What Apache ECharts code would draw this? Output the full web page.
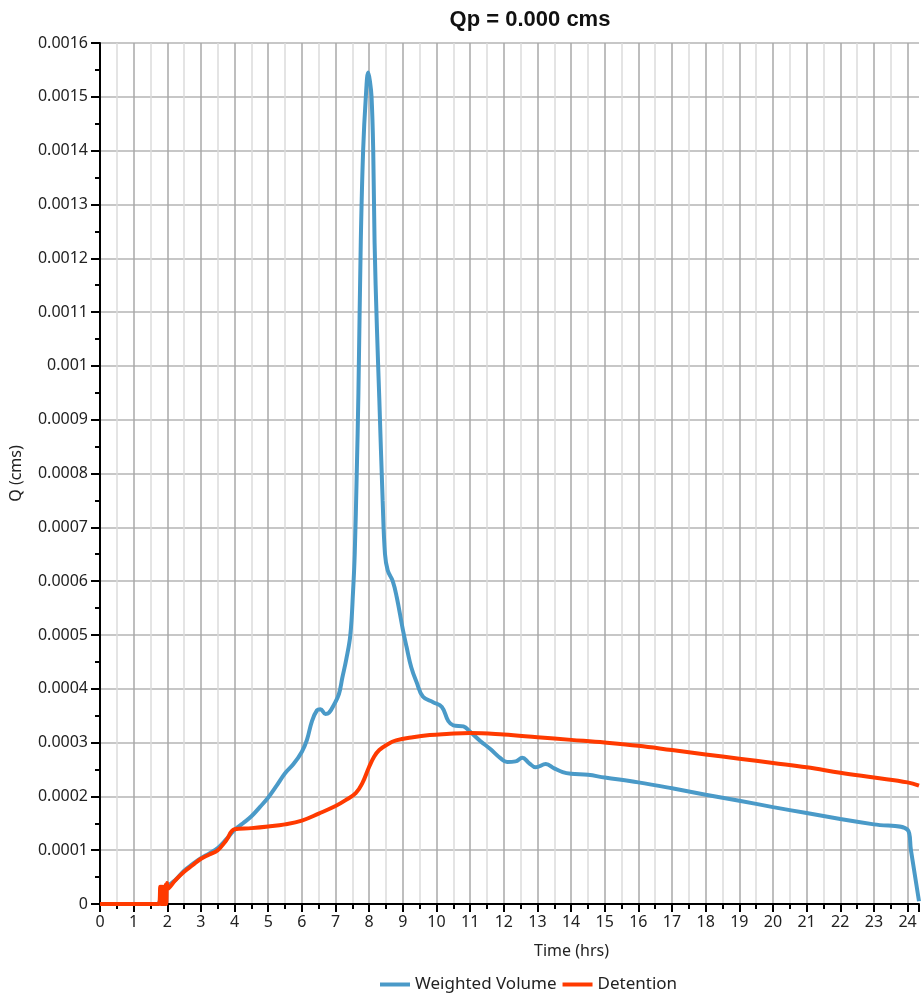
<!DOCTYPE html>
<html>
<head>
<meta charset="utf-8">
<script src="https://cdn.jsdelivr.net/npm/echarts@6/dist/echarts.min.js"></script>
<style>html,body{margin:0;padding:0;background:#fff}#c{width:924px;height:1004px}</style>
</head>
<body>
<div id="c"></div>
<script>
const titleText = 'Qp = 0.000 cms';
const seriesNames = ['Weighted Volume', 'Detention'];

const wvTime = [0,1.7,1.8,1.9,2.0,2.25,2.5,2.75,3.0,3.25,3.5,3.75,4.0,4.25,4.5,4.75,5.0,5.25,5.5,5.75,6.0,6.15,6.3,6.45,6.55,6.7,6.8,6.95,7.1,7.2,7.32,7.44,7.52,7.57,7.63,7.68,7.75,7.82,7.9,7.97,8.02,8.07,8.12,8.16,8.23,8.3,8.4,8.47,8.55,8.7,8.82,9.0,9.11,9.25,9.41,9.6,9.9,10.16,10.35,10.5,10.8,11.0,11.3,11.6,11.9,12.1,12.35,12.55,12.75,12.95,13.25,13.5,13.75,14.0,14.5,15,16,17,18,19,20,21,22,23,24,24.1,24.34];
const wvFlow = [0,0,0.000008,0.00002,0.000032,0.000045,0.000062,0.000074,0.000085,0.000094,0.000104,0.00012,0.000138,0.00015,0.000163,0.00018,0.000198,0.00022,0.000243,0.00026,0.000283,0.000305,0.00034,0.00036,0.000362,0.000353,0.000355,0.00037,0.00039,0.00042,0.000455,0.0005,0.00058,0.00065,0.0008,0.00095,0.00123,0.0014,0.0015,0.001545,0.00153,0.0015,0.0014,0.00123,0.00107,0.00094,0.00075,0.00065,0.00062,0.0006,0.00057,0.00051,0.000478,0.00044,0.000412,0.000385,0.000375,0.000366,0.00034,0.000332,0.00033,0.00032,0.000303,0.000288,0.000271,0.000264,0.000265,0.000272,0.000262,0.000254,0.00026,0.000252,0.000245,0.000242,0.00024,0.000235,0.000226,0.000215,0.000203,0.000192,0.00018,0.000169,0.000158,0.000148,0.000138,0.0001,0.000005];

const detTime = [0,1.75,1.79,1.81,1.83,1.85,1.87,1.89,1.91,1.93,1.95,1.97,1.99,2.01,2.25,2.5,2.75,3.0,3.25,3.5,3.75,4.0,4.5,5.0,5.5,6.0,6.5,7.0,7.3,7.6,7.8,8.0,8.15,8.3,8.55,8.8,9.3,9.8,10.3,11.0,12,13,14,15,16,17,18,19,20,21,22,23,24,24.34];
const detFlow = [0,0,0.000032,0,0.000032,0,0.000032,0,0.000032,0,0.000036,0,0.000039,0.000028,0.000045,0.00006,0.000072,0.000084,0.000092,0.0001,0.000118,0.000139,0.000141,0.000144,0.000148,0.000155,0.000168,0.000182,0.000193,0.000206,0.000225,0.000255,0.000274,0.000286,0.000297,0.000304,0.00031,0.000314,0.000316,0.000318,0.000315,0.00031,0.000305,0.0003,0.000294,0.000286,0.000278,0.00027,0.000262,0.000254,0.000244,0.000235,0.000226,0.00022];

const xMin = 0, xMax = 24.34, xInterval = 1;
const yMin = 0, yMax = 0.0016, yInterval = 0.0001;

const font = '"Noto Sans", "Open Sans", sans-serif';
const chart = echarts.init(document.getElementById('c'), null, {renderer: 'canvas'});
const pair = (xs, ys) => xs.map((x, i) => [x, ys[i]]);

chart.setOption({
  animation: false,
  backgroundColor: '#fff',
  title: {
    text: titleText, left: 525, top: 4, textAlign: 'center',
    textStyle: {fontFamily: '"Liberation Sans", Arial, sans-serif', fontWeight: 'bold', fontSize: 22, color: '#111'}
  },
  legend: {
    bottom: 6, left: 375,
    icon: 'rect',
    itemWidth: 30, itemHeight: 4, itemGap: 6,
    textStyle: {fontFamily: font, fontSize: 17, color: '#222'},
    data: seriesNames
  },
  grid: {left: 100, right: 5, top: 43, bottom: 100, containLabel: false},
  xAxis: {
    type: 'value', min: xMin, max: xMax, interval: xInterval,
    name: 'Time (hrs)', nameLocation: 'middle', nameGap: 39,
    nameTextStyle: {fontFamily: font, fontSize: 16, color: '#222', padding: [0, 0, 0, 124]},
    axisLine: {show: true, onZero: false, lineStyle: {color: '#000', width: 2}},
    axisTick: {show: true, length: 8, lineStyle: {color: '#000', width: 2}},
    minorTick: {show: true, splitNumber: 2, length: 5, lineStyle: {color: '#000', width: 2}},
    axisLabel: {fontFamily: font, fontSize: 16, color: '#222', margin: 10, showMaxLabel: false,
      formatter: v => (Math.abs(v - Math.round(v)) < 1e-9 ? String(Math.round(v)) : '')},
    splitLine: {show: true, showMaxLine: false, lineStyle: {color: '#a8a8a8', width: 1.5}},
    minorSplitLine: {show: true, lineStyle: {color: '#dcdcdc', width: 1.5}}
  },
  yAxis: {
    type: 'value', min: yMin, max: yMax, interval: yInterval,
    name: 'Q (cms)', nameLocation: 'middle', nameGap: 76, nameRotate: 90,
    nameTextStyle: {fontFamily: font, fontSize: 16, color: '#222'},
    axisLine: {show: true, onZero: false, lineStyle: {color: '#000', width: 2}},
    axisTick: {show: true, length: 9, lineStyle: {color: '#000', width: 2}},
    minorTick: {show: true, splitNumber: 2, length: 5, lineStyle: {color: '#000', width: 2}},
    axisLabel: {fontFamily: font, fontSize: 16, color: '#222', margin: 12},
    splitLine: {show: true, lineStyle: {color: '#b4b4b4', width: 1.5}},
    minorSplitLine: {show: false}
  },
  series: [
    {
      name: seriesNames[0], type: 'line', data: pair(wvTime, wvFlow),
      symbol: 'none', smooth: 0.4,
      lineStyle: {color: '#4a9ac8', width: 4}, itemStyle: {color: '#4a9ac8'}, z: 3
    },
    {
      name: seriesNames[1], type: 'line', data: pair(detTime, detFlow),
      symbol: 'none', smooth: 0.4,
      lineStyle: {color: '#ff3a00', width: 4}, itemStyle: {color: '#ff3a00'}, z: 4
    }
  ]
});
</script>
</body>
</html>
